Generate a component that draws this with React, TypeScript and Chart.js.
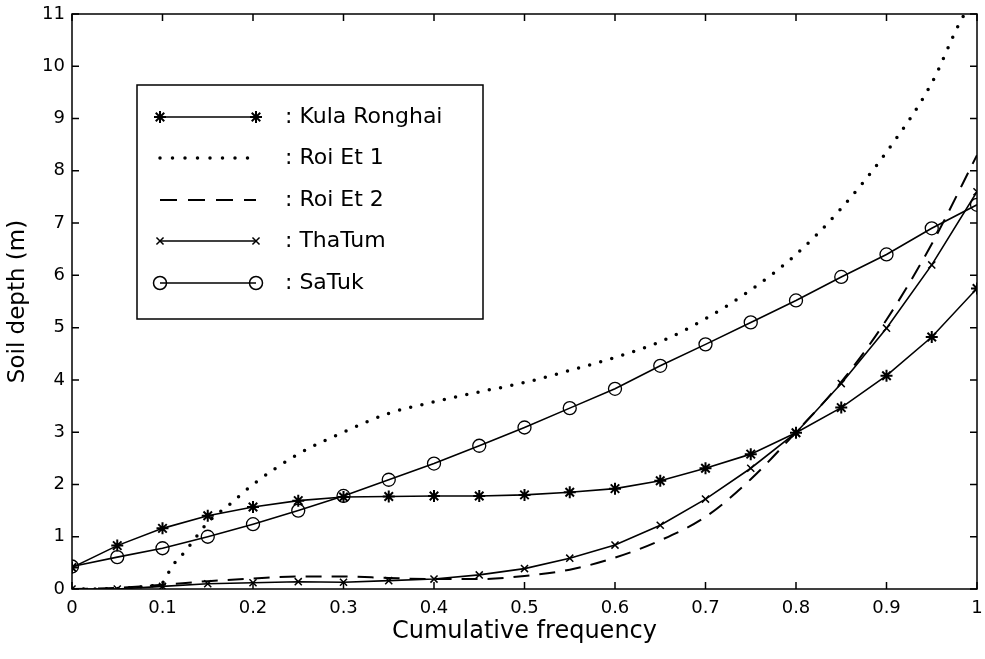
import React, { useEffect, useRef } from 'react';
import { Chart, registerables } from 'chart.js';
Chart.register(...registerables);

const FONT = '"DejaVu Sans", Verdana, sans-serif';

// Cumulative frequency (x) for the marker series
const freq = [0, 0.05, 0.1, 0.15, 0.2, 0.25, 0.3, 0.35, 0.4, 0.45, 0.5, 0.55, 0.6, 0.65, 0.7, 0.75, 0.8, 0.85, 0.9, 0.95, 1.0];

const kulaRonghai = [0.41, 0.83, 1.16, 1.40, 1.57, 1.69, 1.76, 1.77, 1.78, 1.78, 1.80, 1.85, 1.92, 2.07, 2.31, 2.58, 2.99, 3.47, 4.08, 4.82, 5.75];
const thaTum = [0, 0, 0.05, 0.10, 0.12, 0.14, 0.13, 0.16, 0.19, 0.27, 0.39, 0.59, 0.84, 1.22, 1.72, 2.31, 2.99, 3.93, 4.99, 6.20, 7.6];
const saTuk = [0.43, 0.61, 0.78, 1.0, 1.24, 1.50, 1.78, 2.09, 2.40, 2.74, 3.09, 3.46, 3.83, 4.27, 4.68, 5.10, 5.52, 5.97, 6.40, 6.90, 7.35];

const roiEt1Freq = [0, 0.05, 0.08, 0.1, 0.11, 0.125, 0.15, 0.175, 0.2, 0.25, 0.3, 0.35, 0.4, 0.45, 0.5, 0.55, 0.6, 0.65, 0.7, 0.75, 0.8, 0.85, 0.9, 0.95, 0.98, 1.0];
const roiEt1 = [0, 0.01, 0.05, 0.12, 0.42, 0.72, 1.27, 1.63, 2.0, 2.58, 3.0, 3.36, 3.58, 3.77, 3.95, 4.18, 4.43, 4.73, 5.17, 5.72, 6.4, 7.28, 8.36, 9.68, 10.8, 11.4];

const roiEt2 = [0, 0.02, 0.08, 0.15, 0.2, 0.24, 0.24, 0.21, 0.19, 0.19, 0.25, 0.37, 0.6, 0.93, 1.38, 2.1, 3.0, 3.96, 5.15, 6.6, 8.3];

const xTicks = [0, 0.1, 0.2, 0.3, 0.4, 0.5, 0.6, 0.7, 0.8, 0.9, 1];
const yTicks = [0, 1, 2, 3, 4, 5, 6, 7, 8, 9, 10, 11];

const seriesNames = ['Kula Ronghai', 'Roi Et 1', 'Roi Et 2', 'ThaTum', 'SaTuk'];

const pts = (xs: number[], ys: number[]) => xs.map((x, i) => ({ x, y: ys[i] }));

function drawMarker(ctx: CanvasRenderingContext2D, kind: string, x: number, y: number) {
  ctx.beginPath();
  if (kind === 'star') {
    const r = 6;
    for (let k = 0; k < 4; k++) {
      const a = (k * Math.PI) / 4;
      ctx.moveTo(x - r * Math.cos(a), y - r * Math.sin(a));
      ctx.lineTo(x + r * Math.cos(a), y + r * Math.sin(a));
    }
  } else if (kind === 'crossRot') {
    const r = 5 * Math.SQRT1_2;
    ctx.moveTo(x - r, y - r); ctx.lineTo(x + r, y + r);
    ctx.moveTo(x - r, y + r); ctx.lineTo(x + r, y - r);
  } else if (kind === 'circle') {
    ctx.arc(x, y, 6.5, 0, Math.PI * 2);
  }
  ctx.stroke();
}

const framePlugin = {
  id: 'frame',
  afterDraw(chart: any) {
    const ctx = chart.ctx as CanvasRenderingContext2D;
    const { left, right, top, bottom } = chart.chartArea;
    ctx.save();
    ctx.strokeStyle = '#000';
    ctx.lineWidth = 1.5;
    ctx.strokeRect(left, top, right - left, bottom - top);
    const xs = chart.scales.x;
    const ys = chart.scales.y;
    ctx.beginPath();
    xTicks.forEach((v) => {
      const px = xs.getPixelForValue(v);
      ctx.moveTo(px, bottom); ctx.lineTo(px, bottom - 7);
      ctx.moveTo(px, top); ctx.lineTo(px, top + 7);
    });
    yTicks.forEach((v) => {
      const py = ys.getPixelForValue(v);
      ctx.moveTo(left, py); ctx.lineTo(left + 7, py);
      ctx.moveTo(right, py); ctx.lineTo(right - 7, py);
    });
    ctx.stroke();

    // legend box
    const bx = 137, by = 85, bw = 346, bh = 234;
    ctx.fillStyle = '#fff';
    ctx.fillRect(bx, by, bw, bh);
    ctx.strokeRect(bx, by, bw, bh);
    const rowY = [117, 158, 200, 241, 283];
    const x0 = 160, x1 = 256;
    ctx.font = `22px ${FONT}`;
    ctx.textBaseline = 'middle';
    ctx.textAlign = 'left';
    seriesNames.forEach((name, i) => {
      const y = rowY[i];
      ctx.save();
      ctx.strokeStyle = '#000';
      if (i === 1) {
        ctx.lineWidth = 3.5; ctx.lineCap = 'round'; ctx.setLineDash([0, 12.5]);
      } else if (i === 2) {
        ctx.lineWidth = 2; ctx.setLineDash([17, 11]);
      } else {
        ctx.lineWidth = 1.5;
      }
      ctx.beginPath(); ctx.moveTo(x0, y); ctx.lineTo(x1, y); ctx.stroke();
      ctx.setLineDash([]);
      ctx.lineWidth = i === 0 ? 2 : 1.5;
      const kind = i === 0 ? 'star' : i === 3 ? 'crossRot' : i === 4 ? 'circle' : '';
      if (kind) { drawMarker(ctx, kind, x0, y); drawMarker(ctx, kind, x1, y); }
      ctx.restore();
      ctx.fillStyle = '#000';
      ctx.fillText(': ' + name, 285, y);
    });
    ctx.restore();
  },
};

export default function App() {
  const ref = useRef<HTMLCanvasElement>(null);
  useEffect(() => {
    const canvas = ref.current!;
    const base = { borderColor: '#000', pointBorderColor: '#000', fill: false, tension: 0 };
    const chart = new Chart(canvas, {
      type: 'line',
      data: {
        datasets: [
          { ...base, label: seriesNames[0], data: pts(freq, kulaRonghai), borderWidth: 1.6, pointStyle: 'star', pointRadius: 6, pointBorderWidth: 2, pointBackgroundColor: '#000' },
          { ...base, label: seriesNames[1], data: pts(roiEt1Freq, roiEt1), borderWidth: 3.5, borderDash: [0, 11.5], borderCapStyle: 'round', pointRadius: 0, cubicInterpolationMode: 'monotone' },
          { ...base, label: seriesNames[2], data: pts(freq, roiEt2), borderWidth: 2, borderDash: [16, 10], pointRadius: 0, cubicInterpolationMode: 'monotone' },
          { ...base, label: seriesNames[3], data: pts(freq, thaTum), borderWidth: 1.6, pointStyle: 'crossRot', pointRadius: 5, pointBorderWidth: 1.5 },
          { ...base, label: seriesNames[4], data: pts(freq, saTuk), borderWidth: 1.6, pointStyle: 'circle', pointRadius: 6.5, pointBorderWidth: 1.3, pointBackgroundColor: 'rgba(0,0,0,0)' },
        ] as any,
      },
      options: {
        responsive: false,
        animation: false,
        events: [],
        layout: { padding: { top: 14, right: 3, left: 0, bottom: 0 } },
        plugins: { legend: { display: false }, tooltip: { enabled: false } },
        scales: {
          x: {
            type: 'linear',
            min: 0,
            max: 1,
            afterBuildTicks: (s: any) => { s.ticks = xTicks.map((v) => ({ value: v })); },
            afterFit: (s: any) => { s.height = 70; s.paddingLeft = 0; s.paddingRight = 0; },
            grid: { display: false, drawTicks: false },
            border: { display: false },
            ticks: {
              color: '#000',
              font: { family: FONT, size: 18 },
              padding: 9,
              maxRotation: 0,
              autoSkip: false,
              callback: (v: any) => String(Number(Number(v).toFixed(1))),
            },
            title: { display: true, text: 'Cumulative frequency', color: '#000', font: { family: FONT, size: 24 }, padding: { top: 0, bottom: 13 } },
          },
          y: {
            type: 'linear',
            min: 0,
            max: 11,
            afterBuildTicks: (s: any) => { s.ticks = yTicks.map((v) => ({ value: v })); },
            afterFit: (s: any) => { s.width = 72; s.paddingTop = 0; s.paddingBottom = 0; },
            grid: { display: false, drawTicks: false },
            border: { display: false },
            ticks: { color: '#000', font: { family: FONT, size: 18 }, padding: 7, autoSkip: false },
            title: { display: true, text: 'Soil depth (m)', color: '#000', font: { family: FONT, size: 23 }, padding: { top: 4, bottom: 0 } },
          },
        },
      } as any,
      plugins: [framePlugin],
    });
    return () => chart.destroy();
  }, []);
  return (
    <div style={{ position: 'fixed', left: 0, top: 0, width: 985, height: 659, background: '#fff', overflow: 'hidden' }}>
      <canvas ref={ref} width={985} height={659} style={{ display: 'block', width: 985, height: 659 }} />
    </div>
  );
}
